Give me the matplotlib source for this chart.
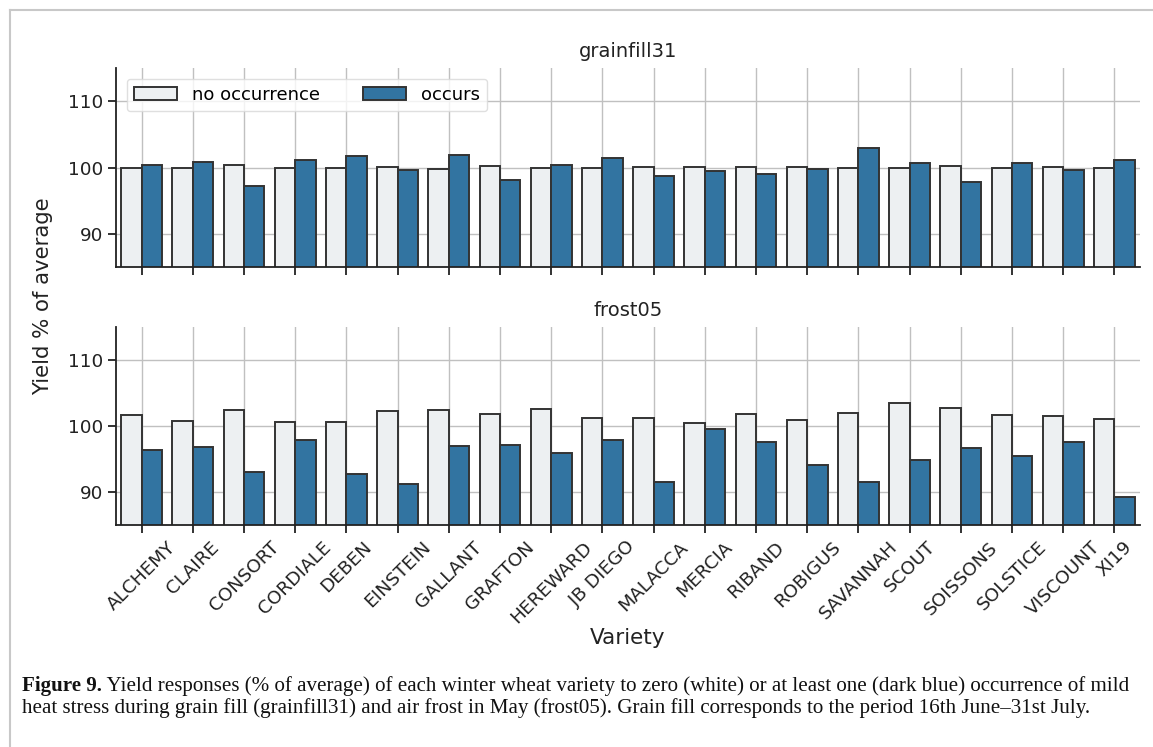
import numpy as np
import matplotlib
matplotlib.use("Agg")
import matplotlib.pyplot as plt
from matplotlib.lines import Line2D

plt.rcParams["font.family"] = ["DejaVu Sans"]

varieties = ["ALCHEMY", "CLAIRE", "CONSORT", "CORDIALE", "DEBEN", "EINSTEIN",
             "GALLANT", "GRAFTON", "HEREWARD", "JB DIEGO", "MALACCA", "MERCIA",
             "RIBAND", "ROBIGUS", "SAVANNAH", "SCOUT", "SOISSONS", "SOLSTICE",
             "VISCOUNT", "XI19"]

grainfill_no = [100.0, 99.95, 100.35, 99.9, 99.85, 100.1, 99.75, 100.3, 99.95, 99.85,
                100.15, 100.1, 100.15, 100.1, 99.85, 99.95, 100.25, 99.95, 100.15, 99.9]
grainfill_occ = [100.4, 100.9, 97.2, 101.15, 101.8, 99.55, 101.9, 98.15, 100.4, 101.45,
                 98.7, 99.45, 98.95, 99.7, 103.0, 100.75, 97.85, 100.75, 99.6, 101.15]

frost_no = [101.6, 100.8, 102.5, 100.65, 100.6, 102.2, 102.45, 101.8, 102.6, 101.2,
            101.2, 100.5, 101.75, 100.95, 101.9, 103.55, 102.8, 101.6, 101.45, 101.1]
frost_occ = [96.3, 96.75, 93.0, 97.9, 92.75, 91.2, 96.95, 97.1, 95.9, 97.9,
             91.55, 99.5, 97.6, 94.1, 91.55, 94.9, 96.6, 95.45, 97.6, 89.25]

panel_titles = ["grainfill31", "frost05"]
legend_labels = ["no occurrence", "occurs"]
y_ticks = [90, 100, 110]

caption_bold = "Figure 9."
caption_line1 = (" Yield responses (% of average) of each winter wheat variety to zero (white) "
                 "or at least one (dark blue) occurrence of mild")
caption_line2 = ("heat stress during grain fill (grainfill31) and air frost in May (frost05). "
                 "Grain fill corresponds to the period 16th June\u201331st July.")

c_no = "#edf0f2"
c_occ = "#3274a1"
edge = "#333333"

W, H = 1153, 747
fig = plt.figure(figsize=(W / 100, H / 100), dpi=100)
fig.patch.set_facecolor("white")

def fx(px):
    return px / W

def fy(py):
    return 1 - py / H

left, right = 116, 1140
panels = [(68, 267), (327, 525)]
data = [(grainfill_no, grainfill_occ), (frost_no, frost_occ)]

x = np.arange(len(varieties))
axes = []
for (top, bot), (no, occ), title in zip(panels, data, panel_titles):
    ax = fig.add_axes([fx(left), fy(bot), fx(right - left), (bot - top) / H])
    ax.set_axisbelow(True)
    ax.grid(True, color="#c0c0c0", linewidth=1.0)
    ax.bar(x - 0.2, no, width=0.4, bottom=0, color=c_no, edgecolor=edge,
           linewidth=1.4, label=legend_labels[0])
    ax.bar(x + 0.2, occ, width=0.4, bottom=0, color=c_occ, edgecolor=edge,
           linewidth=1.4, label=legend_labels[1])
    ax.set_ylim(85, 115)
    ax.set_xlim(-0.5, len(varieties) - 0.5)
    ax.set_yticks(y_ticks)
    ax.set_xticks(x)
    ax.spines["top"].set_visible(False)
    ax.spines["right"].set_visible(False)
    for s in ("left", "bottom"):
        ax.spines[s].set_linewidth(1.3)
        ax.spines[s].set_color("#222222")
    ax.tick_params(axis="both", direction="out", length=6, width=1.3,
                   labelsize=13.3, color="#222222", labelcolor="#222222")
    ax.set_title(title, fontsize=14, pad=8, color="#222222")
    axes.append(ax)

axes[0].tick_params(axis="x", labelbottom=False)
axes[1].set_xticklabels(varieties, rotation=45, ha="center", fontsize=13.3)
axes[1].set_xlabel("Variety", fontsize=15.5, color="#222222", labelpad=1)

leg = axes[0].legend(loc="upper left", ncol=2, fontsize=13, handlelength=2.4,
                     columnspacing=2.4, framealpha=0.8, edgecolor="#d8d8d8",
                     borderaxespad=0.6)

fig.text(fx(43), fy(296), "Yield % of average", rotation=90, fontsize=15.3,
         ha="center", va="center", color="#222222")

# page frame lines
fig.add_artist(Line2D([fx(10), fx(10)], [0, fy(10)], color="#c8c8c8", linewidth=1.5,
                      transform=fig.transFigure))
fig.add_artist(Line2D([fx(10), 1], [fy(10), fy(10)], color="#c8c8c8", linewidth=1.5,
                      transform=fig.transFigure))

# caption
cap_fs = 15.1
serif = ["Liberation Serif", "DejaVu Serif"]
tb = fig.text(fx(22), fy(686), caption_bold, fontsize=cap_fs, fontweight="bold",
              family=serif, ha="left", va="center", color="#111111")
fig.canvas.draw()
r = fig.canvas.get_renderer()
bb = tb.get_window_extent(r)
fig.text(bb.x1 / W, fy(686), caption_line1, fontsize=cap_fs, family=serif,
         ha="left", va="center", color="#111111")
fig.text(fx(22), fy(708), caption_line2, fontsize=cap_fs, family=serif,
         ha="left", va="center", color="#111111")

fig.savefig("out.png", dpi=100)
